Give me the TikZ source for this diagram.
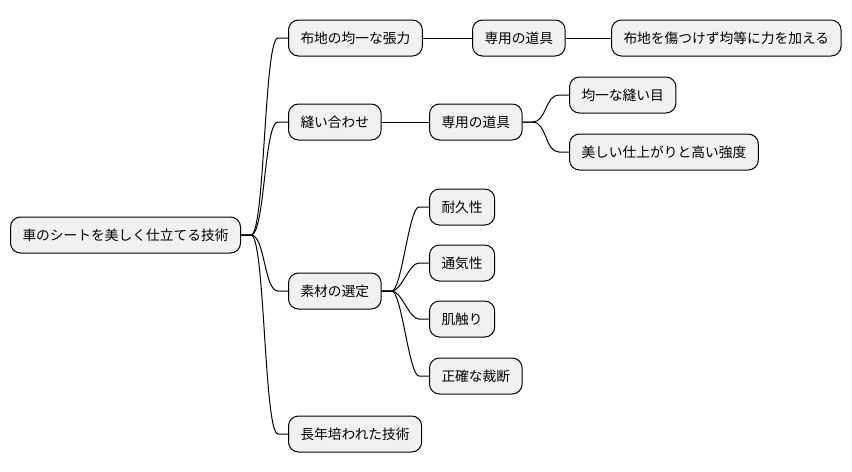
\documentclass[tikz,border=0pt]{standalone}
\usepackage{fontspec}
\setmainfont{Noto Sans CJK JP}
\usetikzlibrary{calc}
\definecolor{nodefill}{RGB}{241,241,241}

\tikzset{every picture/.style={line width=0.75pt}}
\tikzset{
  topic/.style={draw, fill=nodefill, rounded corners=7.5pt, anchor=west,
    minimum height=27pt, inner xsep=9pt, inner ysep=0pt,
    font=\fontsize{10.3pt}{12pt}\selectfont},
  link/.style={draw, line width=0.75pt}
}

\begin{document}
\begin{tikzpicture}[x=0.75pt,y=0.75pt,yscale=-1,xscale=1]
	%frame
	\useasboundingbox (0,0) rectangle (852,471);
	
	%Nodes
	\node[topic] (root) at (10,235) {車のシートを美しく仕立てる技術};
	\node[topic] (tension) at (288,38) {布地の均一な張力};
	\node[topic] (sewing) at (288,122) {縫い合わせ};
	\node[topic] (material) at (288,291) {素材の選定};
	\node[topic] (skill) at (288,434) {長年培われた技術};
	
	\node[topic] (toolA) at (472,38) {専用の道具};
	\node[topic] (force) at (611,38) {布地を傷つけず均等に力を加える};
	\node[topic] (toolB) at (429,122) {専用の道具};
	\node[topic] (seam) at (569,95) {均一な縫い目};
	\node[topic] (finish) at (569,152) {美しい仕上がりと高い強度};
	
	\node[topic] (durable) at (429,207) {耐久性};
	\node[topic] (breath) at (429,263) {通気性};
	\node[topic] (touch) at (429,319) {肌触り};
	\node[topic] (cut) at (429,376) {正確な裁断};
	
	%Links from root
	\foreach \kid in {tension,sewing,material,skill}
	  \draw[link] (root.east) -- ++(10,0) .. controls +(14,0) and +(-14,0) .. ($(\kid.west)+(-10,0)$) -- (\kid.west);
	
	%Straight links
	\draw[link] (tension) -- (toolA);
	\draw[link] (toolA) -- (force);
	\draw[link] (sewing) -- (toolB);
	
	%Curved links
	\foreach \kid in {seam,finish}
	  \draw[link] (toolB.east) -- ++(10,0) .. controls +(14,0) and +(-14,0) .. ($(\kid.west)+(-10,0)$) -- (\kid.west);
	\foreach \kid in {durable,breath,touch,cut}
	  \draw[link] (material.east) -- ++(10,0) .. controls +(10,0) and +(-10,0) .. ($(\kid.west)+(-10,0)$) -- (\kid.west);
	
\end{tikzpicture}
\end{document}
